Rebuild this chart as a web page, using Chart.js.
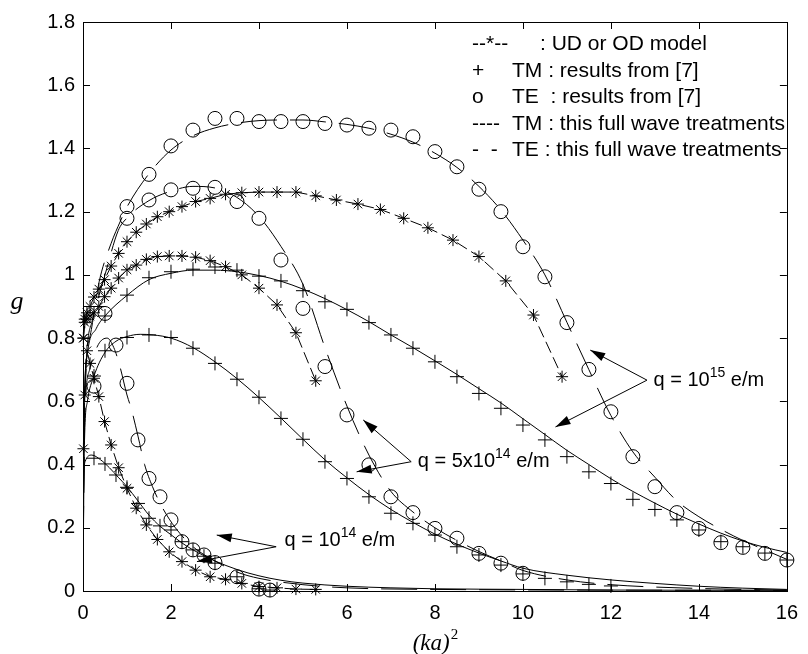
<!DOCTYPE html>
<html><head><meta charset="utf-8">
<script src="https://cdn.jsdelivr.net/npm/chart.js@4.4.1/dist/chart.umd.min.js"></script>
<style>html,body{margin:0;padding:0;background:#fff}</style>
</head><body>
<canvas id="c" width="808" height="654"></canvas>
<script>
// ---------- tick labels ----------
const yTickLabels = ['0','0.2','0.4','0.6','0.8','1','1.2','1.4','1.6','1.8'];
const xTickLabels = ['0','2','4','6','8','10','12','14','16'];

// ---------- UD or OD model (asterisks), x = (ka)^2 ----------
const udX_1e15 = [0.01,0.04,0.09,0.16,0.25,0.36,0.49,0.64,0.81,1,1.21,1.44,1.69,1.96,2.25,2.56,2.89,3.24,3.61,4,4.41,4.84,5.29,5.76,6.25,6.76,7.29,7.84,8.41,9,9.61,10.24,10.89];
const udY_1e15 = [0.80,0.86,0.88,0.90,0.93,0.955,0.985,1.028,1.068,1.105,1.135,1.161,1.184,1.2,1.216,1.232,1.242,1.255,1.26,1.262,1.262,1.262,1.25,1.237,1.224,1.207,1.179,1.149,1.11,1.058,0.981,0.873,0.678];
const udX_5e14 = [0.01,0.04,0.09,0.16,0.25,0.36,0.49,0.64,0.81,1,1.21,1.44,1.69,1.96,2.25,2.56,2.89,3.24,3.61,4,4.41,4.84,5.29];
const udY_5e14 = [0.80,0.85,0.86,0.87,0.88,0.90,0.931,0.958,0.99,1.016,1.031,1.049,1.058,1.06,1.06,1.056,1.045,1.026,1.0,0.958,0.905,0.817,0.665];
const udX_1e14 = [0.01,0.04,0.09,0.16,0.25,0.36,0.49,0.64,0.81,1,1.21,1.44,1.69,1.96,2.25,2.56,2.89,3.24,3.61,4,4.41,4.84,5.29];
const udY_1e14 = [0.45,0.62,0.76,0.72,0.673,0.615,0.536,0.462,0.39,0.325,0.262,0.209,0.163,0.124,0.093,0.066,0.045,0.037,0.024,0.014,0.01,0.006,0.005];

// ---------- TM : results from [7] (crosses) ----------
const tmX_1e15 = [0.5,1,1.5,2,2.5,3,3.5,4,4.5,5,5.5,6,6.5,7,7.5,8,8.5,9,9.5,10,10.5,11,11.5,12,12.5,13,13.5,14,14.5,15,15.5,16];
const tmY_1e15 = [0.87,0.936,0.991,1.01,1.018,1.025,1.015,0.996,0.981,0.95,0.915,0.891,0.849,0.81,0.768,0.725,0.678,0.625,0.578,0.525,0.478,0.425,0.377,0.34,0.29,0.258,0.225,0.193,0.156,0.14,0.12,0.098];
const tmX_5e14 = [0.25,0.5,1,1.5,2,2.5,3,3.5,4,4.5,5,5.5,6,6.5,7,7.5,8,8.5,9,9.5,10,10.5,11,11.5,12];
const tmY_5e14 = [0.68,0.76,0.802,0.81,0.802,0.768,0.72,0.67,0.613,0.546,0.48,0.409,0.356,0.298,0.246,0.214,0.177,0.14,0.114,0.082,0.054,0.04,0.029,0.021,0.016];
const tmX_1e14 = [0.25,0.5,0.75,1,1.25,1.5,1.75,2,2.25,2.5,2.75,3,3.5,4,4.25];
const tmY_1e14 = [0.42,0.402,0.367,0.328,0.277,0.23,0.206,0.193,0.156,0.13,0.11,0.088,0.045,0.007,0.003];

// ---------- TE : results from [7] (circles) ----------
const teX_1e15 = [1,1.5,2,2.5,3,3.5,4,4.5,5,5.5,6,6.5,7,7.5,8,8.5,9,9.5,10,10.5,11,11.5,12,12.5,13,13.5,14,14.5,15,15.5,16];
const teY_1e15 = [1.216,1.318,1.408,1.458,1.495,1.495,1.485,1.485,1.485,1.479,1.474,1.464,1.458,1.437,1.39,1.342,1.271,1.2,1.089,0.994,0.849,0.701,0.567,0.425,0.33,0.248,0.198,0.153,0.138,0.119,0.098];
const teX_5e14 = [0.5,1,1.5,2,2.5,3,3.5,4,4.5,5,5.5,6,6.5,7,7.5,8,8.5,9,9.5,10];
const teY_5e14 = [0.878,1.179,1.237,1.269,1.274,1.277,1.232,1.179,1.047,0.894,0.71,0.557,0.399,0.298,0.248,0.198,0.167,0.119,0.088,0.056];
const teX_1e14 = [0.25,0.75,1,1.25,1.5,1.75,2,2.25,2.5,2.75,3,3.5,4,4.25];
const teY_1e14 = [0.648,0.778,0.657,0.478,0.356,0.298,0.225,0.156,0.13,0.114,0.09,0.045,0.006,0.003];

// ---------- TM : this full wave treatment (solid) ----------
const fwTmX_1e15 = [0,0.02,0.1,0.3,0.5,1,1.5,2,2.5,3,3.5,4,4.5,5,5.5,6,6.5,7,7.5,8,8.5,9,9.5,10,10.5,11,11.5,12,12.5,13,13.5,14,14.5,15,15.5,16];
const fwTmY_1e15 = [0,0.5,0.75,0.83,0.87,0.935,0.985,1.005,1.015,1.015,1.01,0.998,0.98,0.955,0.925,0.89,0.852,0.81,0.77,0.728,0.685,0.64,0.595,0.545,0.495,0.445,0.4,0.355,0.315,0.278,0.243,0.212,0.183,0.158,0.138,0.122];
const fwTmX_5e14 = [0,0.03,0.1,0.25,0.5,0.75,1,1.3,1.6,2,2.5,3,3.5,4,4.5,5,5.5,6,6.5,7,7.5,8,8.5,9,9.5,10,11,12,13,14,15,16];
const fwTmY_5e14 = [0,0.45,0.6,0.68,0.755,0.79,0.805,0.812,0.81,0.8,0.77,0.725,0.672,0.612,0.547,0.48,0.415,0.358,0.305,0.258,0.217,0.18,0.148,0.12,0.095,0.072,0.05,0.035,0.024,0.015,0.009,0.005];
const fwTmX_1e14 = [0,0.01,0.05,0.2,0.4,0.6,0.8,1,1.25,1.5,1.75,2,2.25,2.5,2.75,3,3.5,4,4.5,5,6,7,8,10,12,16];
const fwTmY_1e14 = [0,0.3,0.41,0.43,0.415,0.39,0.36,0.33,0.285,0.24,0.205,0.178,0.152,0.13,0.112,0.095,0.068,0.048,0.034,0.025,0.015,0.01,0.007,0.005,0.003,0.002];

// ---------- TE : this full wave treatment (long dashes) ----------
const fwTeX_1e15 = [0,0.03,0.15,0.37,0.64,0.85,1,1.5,2,2.5,3,3.5,4,4.5,5,5.5,6,6.5,7,7.5,8,8.5,9,9.5,10,10.5,11,11.5,12,12.5,13,13.5,14,14.5,15,15.5,16];
const fwTeY_1e15 = [0,0.6,0.8,0.98,1.1,1.17,1.215,1.32,1.395,1.44,1.465,1.48,1.488,1.49,1.49,1.484,1.476,1.464,1.445,1.42,1.385,1.34,1.28,1.205,1.11,1.0,0.85,0.7,0.555,0.44,0.36,0.285,0.235,0.195,0.16,0.13,0.1];
const fwTeX_5e14 = [0,0.03,0.2,0.5,0.8,1,1.5,2,2.5,3,3.5,4,4.5,5,5.5,6,6.5,7,7.5,8,8.5,9,9.5,10,11,12,14,16];
const fwTeY_5e14 = [0,0.55,0.85,1.0,1.14,1.18,1.235,1.265,1.28,1.275,1.245,1.185,1.09,0.97,0.77,0.585,0.43,0.315,0.25,0.2,0.16,0.125,0.095,0.065,0.035,0.02,0.008,0.003];
const fwTeX_1e14 = [0,0.03,0.15,0.35,0.55,0.7,0.83,1,1.1,1.25,1.4,1.58,1.8,2.1,2.5,3,3.5,4,5,6,8,16];
const fwTeY_1e14 = [0,0.5,0.7,0.78,0.8,0.77,0.715,0.62,0.575,0.49,0.4,0.33,0.265,0.2,0.14,0.095,0.06,0.04,0.02,0.01,0.005,0.002];

// ---------- legend & annotation text ----------
const legendSymbols = ['--*--', '+', 'o', '----', '-  -'];
const legendLabels = [': UD or OD model', 'TM : results from [7]', 'TE  : results from [7]', 'TM : this full wave treatments', 'TE : this full wave treatments'];
const annotations = [
  {parts:[['q = 10',false],['15',true],[' e/m',false]], at:[12.97,0.649], from:[12.82,0.667], tips:[[11.53,0.762],[10.74,0.519]]},
  {parts:[['q = 5x10',false],['14',true],[' e/m',false]], at:[7.61,0.393], from:[7.46,0.409], tips:[[6.37,0.541],[6.22,0.377]]},
  {parts:[['q = 10',false],['14',true],[' e/m',false]], at:[4.58,0.143], from:[4.39,0.14], tips:[[3.04,0.177],[2.59,0.093]]}
];

const pts = (xs, ys) => xs.map((v, i) => ({x: v, y: ys[i]}));
const K = '#000';
const udSet = (xs, ys) => ({data: pts(xs, ys), showLine: true, borderColor: K, borderWidth: 1, borderDash: [12,5],
  pointStyle: 'star', pointRadius: 6, pointBorderColor: K, pointBorderWidth: 1, backgroundColor: 'transparent', clip: false});
const tmSet = (xs, ys) => ({data: pts(xs, ys), showLine: false, pointStyle: 'cross', pointRadius: 7,
  pointBorderColor: K, pointBorderWidth: 1, backgroundColor: 'transparent', borderColor: K, clip: false});
const teSet = (xs, ys) => ({data: pts(xs, ys), showLine: false, pointStyle: 'circle', pointRadius: 7,
  pointBorderColor: K, pointBorderWidth: 1, pointBackgroundColor: 'transparent', borderColor: K, clip: false});
const fwTm = (xs, ys) => ({data: pts(xs, ys), showLine: true, borderColor: K, borderWidth: 1, pointRadius: 0,
  cubicInterpolationMode: 'monotone'});
const fwTe = (xs, ys) => ({data: pts(xs, ys), showLine: true, borderColor: K, borderWidth: 1, pointRadius: 0,
  borderDash: [36,13], cubicInterpolationMode: 'monotone'});

const datasets = [
  fwTm(fwTmX_1e15, fwTmY_1e15), fwTm(fwTmX_5e14, fwTmY_5e14), fwTm(fwTmX_1e14, fwTmY_1e14),
  fwTe(fwTeX_1e15, fwTeY_1e15), fwTe(fwTeX_5e14, fwTeY_5e14), fwTe(fwTeX_1e14, fwTeY_1e14),
  udSet(udX_1e15, udY_1e15), udSet(udX_5e14, udY_5e14), udSet(udX_1e14, udY_1e14),
  tmSet(tmX_1e15, tmY_1e15), tmSet(tmX_5e14, tmY_5e14), tmSet(tmX_1e14, tmY_1e14),
  teSet(teX_1e15, teY_1e15), teSet(teX_5e14, teY_5e14), teSet(teX_1e14, teY_1e14)
];

const SANS = '"Liberation Sans", Arial, sans-serif';
const SERIF = '"Liberation Serif", "Times New Roman", serif';

function drawParts(ctx, parts, x, y, size) {
  let cx = x;
  parts.forEach(([t, sup]) => {
    ctx.font = (sup ? Math.round(size*0.72) : size) + 'px ' + SANS;
    ctx.fillText(t, cx, sup ? y - size*0.45 : y);
    cx += ctx.measureText(t).width;
  });
}
function arrow(ctx, x1, y1, x2, y2) {
  ctx.beginPath(); ctx.moveTo(x1, y1); ctx.lineTo(x2, y2); ctx.stroke();
  const a = Math.atan2(y2 - y1, x2 - x1), L = 15, W = 4.5;
  ctx.beginPath();
  ctx.moveTo(x2, y2);
  ctx.lineTo(x2 - L*Math.cos(a) + W*Math.sin(a), y2 - L*Math.sin(a) - W*Math.cos(a));
  ctx.lineTo(x2 - L*Math.cos(a) - W*Math.sin(a), y2 - L*Math.sin(a) + W*Math.cos(a));
  ctx.closePath(); ctx.fill();
}

const decor = {
  id: 'decor',
  beforeDraw(chart) {
    const c = chart.ctx; c.save(); c.fillStyle = '#fff'; c.fillRect(0, 0, chart.width, chart.height); c.restore();
  },
  afterDraw(chart) {
    const {ctx, chartArea: a, scales: {x, y}} = chart;
    ctx.save();
    ctx.strokeStyle = K; ctx.fillStyle = K; ctx.lineWidth = 1;
    ctx.strokeRect(Math.round(a.left)+0.5, Math.round(a.top)+0.5, Math.round(a.right-a.left), Math.round(a.bottom-a.top));
    const T = 7;
    ctx.beginPath();
    x.ticks.forEach(t => {
      const p = Math.round(x.getPixelForValue(t.value)) + 0.5;
      ctx.moveTo(p, a.bottom); ctx.lineTo(p, a.bottom - T);
      ctx.moveTo(p, a.top); ctx.lineTo(p, a.top + T);
    });
    y.ticks.forEach(t => {
      const p = Math.round(y.getPixelForValue(t.value)) + 0.5;
      ctx.moveTo(a.left, p); ctx.lineTo(a.left + T, p);
      ctx.moveTo(a.right, p); ctx.lineTo(a.right - T, p);
    });
    ctx.stroke();

    // legend (text block, upper right)
    ctx.textBaseline = 'alphabetic';
    ctx.font = '21px ' + SANS;
    legendSymbols.forEach((s, i) => {
      const by = a.top + 28 + i*26.5;
      ctx.fillText(s, a.left + 389, by);
      ctx.fillText(legendLabels[i], a.left + (i === 0 ? 457 : 429), by);
    });

    // annotations with arrows
    annotations.forEach(an => {
      const fx = x.getPixelForValue(an.from[0]), fy = y.getPixelForValue(an.from[1]);
      an.tips.forEach(tp => arrow(ctx, fx, fy, x.getPixelForValue(tp[0]), y.getPixelForValue(tp[1])));
      drawParts(ctx, an.parts, x.getPixelForValue(an.at[0]), y.getPixelForValue(an.at[1]), 20);
    });

    // axis titles
    ctx.font = 'italic 26px ' + SERIF;
    ctx.textAlign = 'center';
    ctx.fillText('g', 17, 309);
    ctx.textAlign = 'left';
    ctx.font = 'italic 23px ' + SERIF;
    const w1 = ctx.measureText('(ka)').width;
    ctx.font = '15px ' + SERIF;
    const w2 = ctx.measureText('2').width;
    const cx = (a.left + a.right) / 2 - (w1 + w2) / 2;
    ctx.font = 'italic 23px ' + SERIF;
    ctx.fillText('(ka)', cx, 650);
    ctx.font = '15px ' + SERIF;
    ctx.fillText('2', cx + w1 + 1, 639);
    ctx.restore();
  }
};

new Chart(document.getElementById('c'), {
  type: 'scatter',
  data: {datasets},
  options: {
    responsive: false, animation: false, devicePixelRatio: 1,
    layout: {padding: {left: 0, right: 13, top: 22, bottom: 0}},
    plugins: {legend: {display: false}, tooltip: {enabled: false}},
    elements: {line: {tension: 0}},
    scales: {
      x: {type: 'linear', min: 0, max: 16,
        afterFit: s => { s.height = 63; },
        grid: {display: false, drawTicks: false},
        border: {display: false},
        ticks: {stepSize: 2, padding: 10, color: K, font: {family: SANS, size: 20},
          callback: (v, i) => xTickLabels[i]}},
      y: {type: 'linear', min: 0, max: 1.8,
        afterFit: s => { s.width = 83; },
        grid: {display: false, drawTicks: false},
        border: {display: false},
        ticks: {stepSize: 0.2, padding: 8, color: K, font: {family: SANS, size: 20},
          callback: (v, i) => yTickLabels[i]}}
    }
  },
  plugins: [decor]
});
</script>
</body></html>
